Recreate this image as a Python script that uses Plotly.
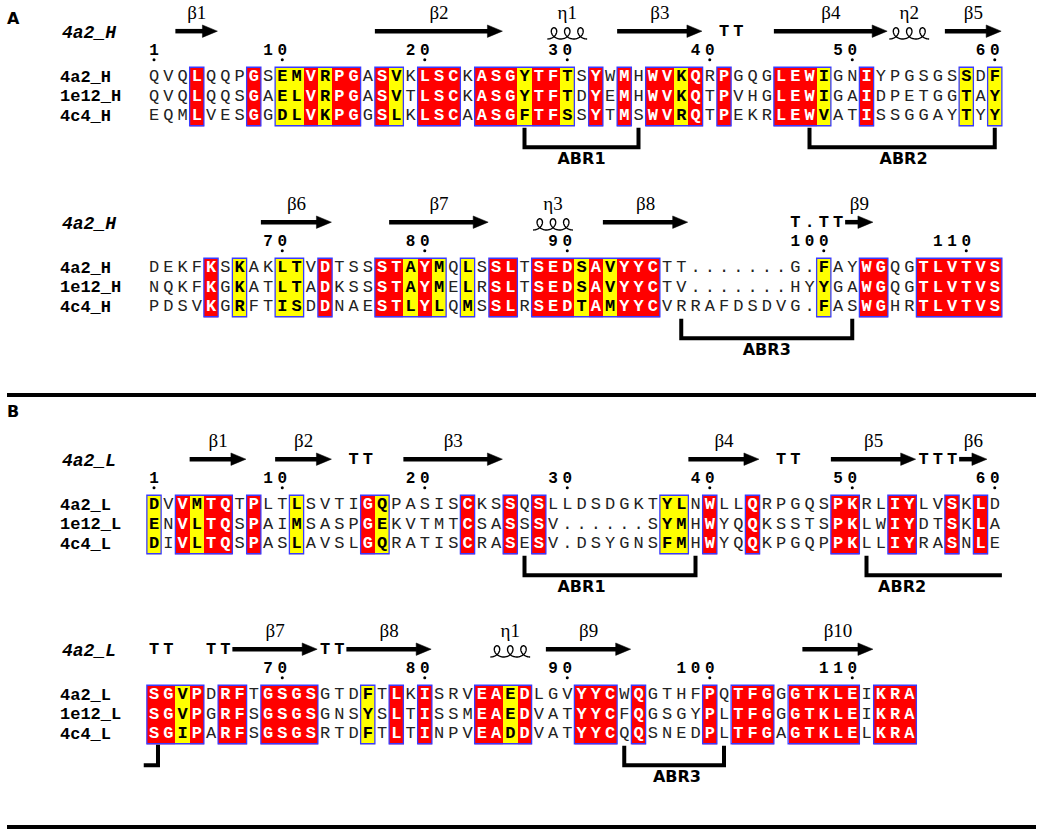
import numpy as np
import plotly.graph_objects as go

# ---------------- data ----------------
names_H = ["4a2_H", "1e12_H", "4c4_H"]
names_L = ["4a2_L", "1e12_L", "4c4_L"]

seq_A1 = ["QVQLQQPGSEMVRPGASVKLSCKASGYTFTSYWMHWVKQRPGQGLEWIGNIYPGSGSSDF",
          "QVQLQQSGAELVRPGASVTLSCKASGYTFTDYEMHWVKQTPVHGLEWIGAIDPETGGTAY",
          "EQMLVESGGDLVKPGGSLKLSCAASGFTFSSYTMSWVRQTPEKRLEWVATISSGGAYTYY"]
seq_A2 = ["DEKFKSKAKLTVDTSSSTAYMQLSSLTSEDSAVYYCTT.......G.FAYWGQGTLVTVS",
          "NQKFKGKATLTADKSSSTAYMELRSLTSEDSAVYYCTV.......HYYGAWGQGTLVTVS",
          "PDSVKGRFTISDDNAESTLYLQMSSLRSEDTAMYYCVRRAFDSDVG.FASWGHRTLVTVS"]
seq_B1 = ["DVVMTQTPLTLSVTIGQPASISCKSSQSLLDSDGKTYLNWLLQRPGQSPKRLIYLVSKLD",
          "ENVLTQSPAIMSASPGEKVTMTCSASSSV......SYMHWYQQKSSTSPKLWIYDTSKLA",
          "DIVLTQSPASLAVSLGQRATISCRASESV.DSYGNSFMHWYQQKPGQPPKLLIYRASNLE"]
seq_B2 = ["SGVPDRFTGSGSGTDFTLKISRVEAEDLGVYYCWQGTHFPQTFGGGTKLEIKRA",
          "SGVPGRFSGSGSGNSYSLTISSMEAEDVATYYCFQGSGYPLTFGGGTKLEIKRA",
          "SGIPARFSGSGSRTDFTLTINPVEADDVATYYCQQSNEDPLTFGAGTKLELKRA"]

# columns shaded yellow (similar residues); identical columns are red
sim_A1 = [10, 11, 13, 18, 27, 30, 38, 48, 58, 60]
sim_A2 = [7, 10, 11, 19, 21, 23, 31, 33, 48]
sim_B1 = [1, 4, 11, 17, 37, 38]
sim_B2 = [3, 16, 26]

first_res_A1, first_res_A2, first_res_B1, first_res_B2 = 1, 61, 1, 61

# secondary structure of the reference (type, first col, last col, label)
ss_A1 = [("E", 3, 5, "β1"), ("E", 17, 25, "β2"), ("H", 29, 31, "η1"), ("E", 34, 39, "β3"),
         ("E", 45, 52, "β4"), ("H", 53, 55, "η2"), ("E", 57, 60, "β5")]
ss_A2 = [("E", 9, 13, "β6"), ("E", 18, 24, "β7"), ("H", 28, 30, "η3"), ("E", 33, 38, "β8"),
         ("E", 50, 51, "β9")]
ss_B1 = [("E", 4, 7, "β1"), ("E", 10, 13, "β2"), ("E", 19, 25, "β3"), ("E", 39, 43, "β4"),
         ("E", 49, 54, "β5"), ("E", 58, 59, "β6")]
ss_B2 = [("E", 7, 12, "β7"), ("E", 15, 20, "β8"), ("H", 25, 27, "η1"), ("E", 29, 34, "β9"),
         ("E", 47, 51, "β10")]

turns_A1 = [(41, "T"), (42, "T")]
turns_A2 = [(46, "T"), (47, "."), (48, "T"), (49, "T")]
turns_B1 = [(15, "T"), (16, "T"), (45, "T"), (46, "T"), (55, "T"), (56, "T"), (57, "T")]
turns_B2 = [(1, "T"), (2, "T"), (5, "T"), (6, "T"), (13, "T"), (14, "T")]

# antigen-binding regions (left col or None=open, right col or None=open, label, label col)
abr_A1 = [(27, 35, "ABR1", 31), (47, 60, "ABR2", 53.6)]
abr_A2 = [(38, 50, "ABR3", 44)]
abr_B1 = [(27, 39, "ABR1", 31), (51, None, "ABR2", 53.5)]
abr_B2 = [(None, 1.28, "", None), (34, 41, "ABR3", 37.7)]

# ---------------- geometry / style ----------------
W, H = 1041, 835
CW, RH = 14.25, 19.5          # px per alignment column / per sequence row
COL1_PX = 154                 # pixel centre of column 1
NAME_PX = 58
MONO = "Liberation Mono, Courier New, monospace"
SERIF = "Liberation Serif, Times New Roman, serif"
SANS = "DejaVu Sans, Verdana, sans-serif"
RED, YEL, BLUE = "#FF0000", "#FFFF00", "#3A3AFF"

ROW_ARROW, ROW_SSLAB, ROW_TURN = -2.35, -3.2, -2.33
ROW_NUM, ROW_DOT, ROW_COIL = -1.35, -0.88, -1.95
BR_TOP, BR_BOT, BR_LAB = 2.6, 3.6, 4.25

def px2col(p):
    return 1 + (p - COL1_PX) / CW

blocks = [
    dict(seqs=seq_A1, names=names_H, sim=sim_A1, ss=ss_A1, turns=turns_A1, abr=abr_A1,
         first=first_res_A1, row0=77, top=0, bot=182, label="4a2_H"),
    dict(seqs=seq_A2, names=names_H, sim=sim_A2, ss=ss_A2, turns=turns_A2, abr=abr_A2,
         first=first_res_A2, row0=268, top=186, bot=390, label="4a2_H"),
    dict(seqs=seq_B1, names=names_L, sim=sim_B1, ss=ss_B1, turns=turns_B1, abr=abr_B1,
         first=first_res_B1, row0=505, top=420, bot=602, label="4a2_L"),
    dict(seqs=seq_B2, names=names_L, sim=sim_B2, ss=ss_B2, turns=turns_B2, abr=abr_B2,
         first=first_res_B2, row0=695, top=606, bot=800, label="4a2_L"),
]

fig = go.Figure()
shapes, annotations = [], []
layout_axes = {}

for bi, b in enumerate(blocks):
    yname = "y" if bi == 0 else f"y{bi+1}"
    ykey = "yaxis" if bi == 0 else f"yaxis{bi+1}"
    layout_axes[ykey] = dict(domain=[1 - b["bot"] / H, 1 - b["top"] / H],
                             range=[(b["bot"] - b["row0"]) / RH, (b["top"] - b["row0"]) / RH],
                             visible=False, fixedrange=True, anchor="x")
    seqs = b["seqs"]
    ncol = len(seqs[0])
    cols = list(range(1, ncol + 1))
    cls = []
    for c in cols:
        chars = [s[c - 1] for s in seqs]
        if c in b["sim"]:
            cls.append(2)
        elif chars[0] != "." and all(ch == chars[0] for ch in chars):
            cls.append(1)
        else:
            cls.append(0)
    z = [[(v if v else None) for v in cls] for _ in seqs]
    fig.add_trace(go.Heatmap(x=cols, y=list(range(len(seqs))), z=z, zmin=1, zmax=2,
                             colorscale=[[0, RED], [0.5, RED], [0.5, YEL], [1, YEL]],
                             showscale=False, hoverinfo="skip", xaxis="x", yaxis=yname))
    # blue frames around runs of shaded columns
    c = 0
    while c < ncol:
        if cls[c]:
            s = c
            while c + 1 < ncol and cls[c + 1]:
                c += 1
            shapes.append(dict(type="rect", xref="x", yref=yname, x0=s + 1 - 0.5, x1=c + 1 + 0.5,
                               y0=-0.5, y1=len(seqs) - 0.5, line=dict(color=BLUE, width=1.3)))
        c += 1
    # letters
    groups = {0: ([], [], []), 1: ([], [], []), 2: ([], [], [])}
    for r, s in enumerate(seqs):
        for ci, ch in enumerate(s):
            g = groups[cls[ci]]
            g[0].append(ci + 1); g[1].append(r); g[2].append(ch)
    styles = {0: ("#222222", "normal"), 1: ("#FFFFFF", "bold"), 2: ("#000000", "bold")}
    for k, (xs, ys, ts) in groups.items():
        if not xs:
            continue
        fig.add_trace(go.Scatter(x=xs, y=ys, text=ts, mode="text", xaxis="x", yaxis=yname,
                                 textposition="middle center", cliponaxis=False, hoverinfo="skip",
                                 textfont=dict(family=MONO, size=17, color=styles[k][0],
                                               weight=styles[k][1]), showlegend=False))
    # names
    for r, nm in enumerate(b["names"]):
        annotations.append(dict(x=px2col(NAME_PX), y=r, xref="x", yref=yname, text=nm,
                                showarrow=False, xanchor="left", yanchor="middle",
                                font=dict(family=MONO, size=17, color="black", weight="bold")))
    annotations.append(dict(x=px2col(NAME_PX + 2), y=-2.28, xref="x", yref=yname, text=b["label"],
                            showarrow=False, xanchor="left", yanchor="middle",
                            font=dict(family=MONO, size=18, color="black", weight="bold",
                                      style="italic")))
    # numbering (from first sequence, gaps not counted)
    dx, dy, dt, dotx = [], [], [], []
    res = b["first"] - 1
    for ci, ch in enumerate(seqs[0]):
        if ch == ".":
            continue
        res += 1
        if res == 1 or res % 10 == 0:
            digits = str(res)
            for k, d in enumerate(digits):
                dx.append(ci + 1 - (len(digits) - 1 - k)); dy.append(ROW_NUM); dt.append(d)
            dotx.append(ci + 1)
    fig.add_trace(go.Scatter(x=dx, y=dy, text=dt, mode="text", xaxis="x", yaxis=yname,
                             cliponaxis=False, hoverinfo="skip", showlegend=False,
                             textfont=dict(family=MONO, size=16, color="black", weight="bold")))
    fig.add_trace(go.Scatter(x=dotx, y=[ROW_DOT] * len(dotx), mode="markers", xaxis="x",
                             yaxis=yname, hoverinfo="skip", showlegend=False, cliponaxis=False,
                             marker=dict(size=3, color="black", symbol="circle")))
    # secondary structure
    lx, ly, lt = [], [], []
    for typ, s, e, lab in b["ss"]:
        if typ == "E":
            x0, tip = s - 0.5, e + 0.45
            hl, hh = 15 / CW, 6.2 / RH
            shapes.append(dict(type="line", xref="x", yref=yname, x0=x0, x1=tip - hl + 0.05,
                               y0=ROW_ARROW, y1=ROW_ARROW, line=dict(color="black", width=4.5)))
            shapes.append(dict(type="path", xref="x", yref=yname,
                               path=f"M {tip-hl},{ROW_ARROW-hh} L {tip},{ROW_ARROW} L {tip-hl},{ROW_ARROW+hh} Z",
                               fillcolor="black", line=dict(color="black", width=0.5)))
        else:
            n = e - s + 1
            span = n * CW - 3
            kk, rr = span / (2 * n * np.pi), 5.6
            t = np.linspace(-np.pi, (2 * n - 1) * np.pi, 240)
            xpx = kk * t - rr * np.sin(t) - kk * (n - 1) * np.pi
            xs = (s + e) / 2 + xpx / CW
            ys = ROW_COIL - (rr * np.cos(t) + rr) / RH
            path = "M " + " L ".join(f"{a:.3f},{c:.3f}" for a, c in zip(xs, ys))
            shapes.append(dict(type="path", xref="x", yref=yname, path=path,
                               line=dict(color="black", width=1.4)))
        lx.append((s + e) / 2); ly.append(ROW_SSLAB); lt.append(lab)
    fig.add_trace(go.Scatter(x=lx, y=ly, text=lt, mode="text", xaxis="x", yaxis=yname,
                             cliponaxis=False, hoverinfo="skip", showlegend=False,
                             textfont=dict(family=SERIF, size=19, color="black")))
    tx = [c for c, _ in b["turns"]]
    tt = [t_ for _, t_ in b["turns"]]
    fig.add_trace(go.Scatter(x=tx, y=[ROW_TURN] * len(tx), text=tt, mode="text", xaxis="x",
                             yaxis=yname, cliponaxis=False, hoverinfo="skip", showlegend=False,
                             textfont=dict(family=MONO, size=17, color="black", weight="bold")))
    # antigen-binding region brackets
    bx, by, bt = [], [], []
    for left, right, lab, labc in b["abr"]:
        if left is not None and right is not None:
            p = f"M {left},{BR_TOP} L {left},{BR_BOT} L {right},{BR_BOT} L {right},{BR_TOP}"
        elif right is None:
            p = f"M {left},{BR_TOP} L {left},{BR_BOT} L {ncol + 0.5},{BR_BOT}"
        else:
            p = f"M {right - 1},{BR_BOT} L {right},{BR_BOT} L {right},{BR_TOP - 0.05}"
        shapes.append(dict(type="path", xref="x", yref=yname, path=p,
                           line=dict(color="black", width=4)))
        if lab:
            bx.append(labc); by.append(BR_LAB); bt.append(lab)
    if bx:
        fig.add_trace(go.Scatter(x=bx, y=by, text=bt, mode="text", xaxis="x", yaxis=yname,
                                 cliponaxis=False, hoverinfo="skip", showlegend=False,
                                 textfont=dict(family=SANS, size=16, color="black", weight="bold")))

# panel separators and letters
for ypx in (395, 827):
    shapes.append(dict(type="line", xref="paper", yref="paper", x0=7 / W, x1=1036 / W,
                       y0=1 - ypx / H, y1=1 - ypx / H, line=dict(color="black", width=4)))
for txt, ypx in (("A", 18), ("B", 412)):
    annotations.append(dict(x=13 / W, y=1 - ypx / H, xref="paper", yref="paper", text=txt,
                            showarrow=False, xanchor="center", yanchor="middle",
                            font=dict(family=SANS, size=16, color="black", weight="bold")))

fig.update_layout(
    width=W, height=H, margin=dict(l=0, r=0, t=0, b=0),
    paper_bgcolor="white", plot_bgcolor="white", showlegend=False, hovermode=False,
    xaxis=dict(range=[px2col(0), px2col(W)], domain=[0, 1], visible=False, fixedrange=True,
               anchor="y"),
    shapes=shapes, annotations=annotations, **layout_axes,
)

fig.write_html("out.html", config={"displayModeBar": False, "staticPlot": True},
               post_script="document.body.style.margin='0';")
